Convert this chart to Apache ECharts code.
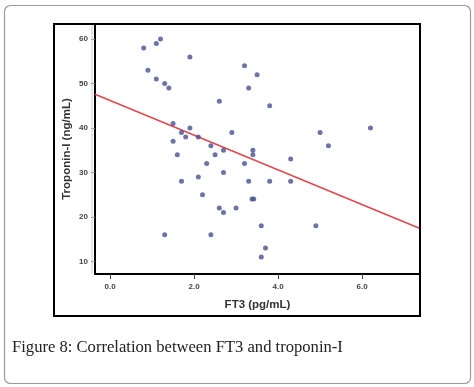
<!DOCTYPE html>
<html>
<head>
<meta charset="utf-8">
<script src="https://cdn.jsdelivr.net/npm/echarts@6/dist/echarts.min.js"></script>
<style>
  html, body { margin: 0; padding: 0; background: #fff; }
  #chart { width: 474px; height: 387px; }
</style>
</head>
<body>
<div id="chart"></div>
<script>
// FT3 (pg/mL) vs troponin-I (ng/mL)
const ft3 = [0.8, 1.2, 1.1, 1.9, 0.9, 1.1, 1.3, 1.4, 3.2, 3.5, 3.3, 2.6, 3.8,
  1.5, 1.9, 1.7, 1.8, 2.1, 2.9, 6.2, 5.0, 5.2, 1.5, 2.4, 2.7, 3.4, 3.4, 1.6,
  2.5, 2.3, 3.2, 4.3, 2.7, 2.1, 1.7, 3.3, 3.8, 4.3, 2.2, 3.38, 3.42, 2.6,
  2.7, 3.0, 3.6, 4.9, 1.3, 2.4, 3.7, 3.6]
const troponin = [58, 60, 59, 56, 53, 51, 50, 49, 54, 52, 49, 46, 45,
  41, 40, 39, 38, 38, 39, 40, 39, 36, 37, 36, 35, 35, 34, 34,
  34, 32, 32, 33, 30, 29, 28, 28, 28, 28, 25, 24, 24, 22,
  21, 22, 18, 18, 16, 16, 13, 11]
// fit line end points [x, y]
const fitLine = [[-0.36, 47.6], [7.38, 17.4]]
const xTicks = ['0.0', '2.0', '4.0', '6.0']

const points = ft3.map((x, i) => [x, troponin[i]])

const chart = echarts.init(document.getElementById('chart'))
chart.setOption({
  animation: false,
  grid: {
    left: 95,
    top: 24,
    right: 54,
    bottom: 113
  },
  xAxis: {
    type: 'value',
    min: -0.36,
    max: 7.38,
    interval: 2,
    name: 'FT3 (pg/mL)',
    nameLocation: 'middle',
    nameGap: 25,
    nameTextStyle: {
      fontFamily: 'Liberation Sans',
      fontWeight: 'bold',
      fontSize: 11.5,
      color: '#333'
    },
    axisLine: { onZero: false, lineStyle: { color: '#000', width: 2 } },
    axisTick: {
      show: true,
      length: 5,
      lineStyle: { color: '#444' },
      customValues: [0, 2, 4, 6]
    },
    axisLabel: {
      fontFamily: 'Liberation Sans',
      fontWeight: 'bold',
      fontSize: 8,
      color: '#444',
      margin: 9,
      customValues: [0, 2, 4, 6],
      formatter: v => xTicks[Math.round(v / 2)]
    },
    splitLine: { show: false }
  },
  yAxis: {
    type: 'value',
    min: 7.15,
    max: 63.4,
    name: 'Troponin-I (ng/mL)',
    nameLocation: 'middle',
    nameGap: 22,
    nameMoveOverlap: false,
    nameTextStyle: {
      fontFamily: 'Liberation Sans',
      fontWeight: 'bold',
      fontSize: 11.5,
      color: '#333'
    },
    axisLine: { show: true, onZero: false, lineStyle: { color: '#000', width: 2 } },
    axisTick: {
      show: true,
      length: 4,
      lineStyle: { color: '#888' },
      customValues: [10, 20, 30, 40, 50, 60]
    },
    axisLabel: {
      fontFamily: 'Liberation Sans',
      fontWeight: 'bold',
      fontSize: 8,
      color: '#444',
      margin: 7,
      customValues: [10, 20, 30, 40, 50, 60]
    },
    splitLine: { show: false }
  },
  graphic: [
    {
      type: 'rect',
      shape: { x: 4.5, y: 5.5, width: 466, height: 378, r: 6 },
      style: { fill: 'none', stroke: '#999', lineWidth: 1.2 },
      z: 0
    },
    {
      type: 'rect',
      shape: { x: 54, y: 24, width: 366, height: 292 },
      style: { fill: 'none', stroke: '#000', lineWidth: 2 },
      z: 10
    },
    {
      type: 'line',
      shape: { x1: 92, y1: 24, x2: 92, y2: 274 },
      style: { stroke: '#ccc', lineWidth: 1 },
      z: 1
    },
    {
      type: 'text',
      left: 12,
      top: 339,
      style: {
        text: 'Figure 8: Correlation between FT3 and troponin-I',
        fontFamily: 'Liberation Serif',
        fontSize: 16.6,
        fill: '#222'
      }
    }
  ],
  series: [
    {
      type: 'scatter',
      data: points,
      symbolSize: 5,
      itemStyle: { color: '#46518f' },
      z: 3
    },
    {
      type: 'line',
      data: fitLine,
      symbol: 'none',
      lineStyle: { color: '#e0474f', width: 1.5 },
      z: 2
    }
  ]
})
</script>
</body>
</html>
